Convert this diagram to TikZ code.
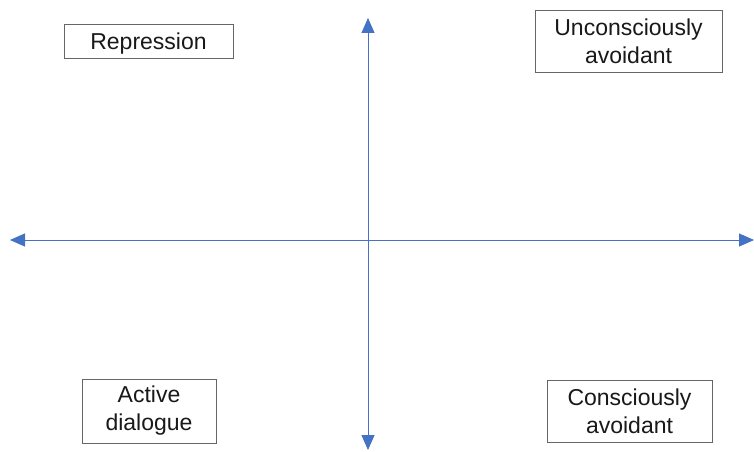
\documentclass[tikz,border=0pt]{standalone}
\usepackage{fontspec}
\setmainfont{Liberation Sans}
\usetikzlibrary{arrows.meta}
\definecolor{axisblue}{HTML}{4472C4}
\definecolor{boxgray}{HTML}{666666}
\tikzset{
  lbl/.style={draw=boxgray, line width=0.9pt, fill=white, align=center, inner sep=0pt,
    font=\fontsize{23}{28}\selectfont, text=black!90},
  axis/.style={draw=axisblue, line width=1pt, {Triangle[length=15pt,width=13pt]}-{Triangle[length=15pt,width=13pt]}}
}
\begin{document}
\begin{tikzpicture}[x=1pt,y=1pt]
\useasboundingbox (0,0) rectangle (754,451);
\coordinate (L) at (10,211);
\coordinate (R) at (754,211);
\coordinate (T) at (368,433);
\coordinate (B) at (368,1);
\draw[axis] (L) -- (R);
\draw[axis] (T) -- (B);
\node[lbl, minimum width=169pt, minimum height=34pt, text height=18pt, text depth=2pt] (rep) at (148.5,410) {Repression};
\node[lbl, minimum width=187pt, minimum height=62pt] (unc) at (628.5,410) {Unconsciously\\avoidant};
\node[lbl, minimum width=134pt, minimum height=64pt] (act) at (149,40) {Active\\dialogue};
\node[lbl, minimum width=165pt, minimum height=62pt] (con) at (629.5,40) {Consciously\\avoidant};
\end{tikzpicture}
\end{document}
